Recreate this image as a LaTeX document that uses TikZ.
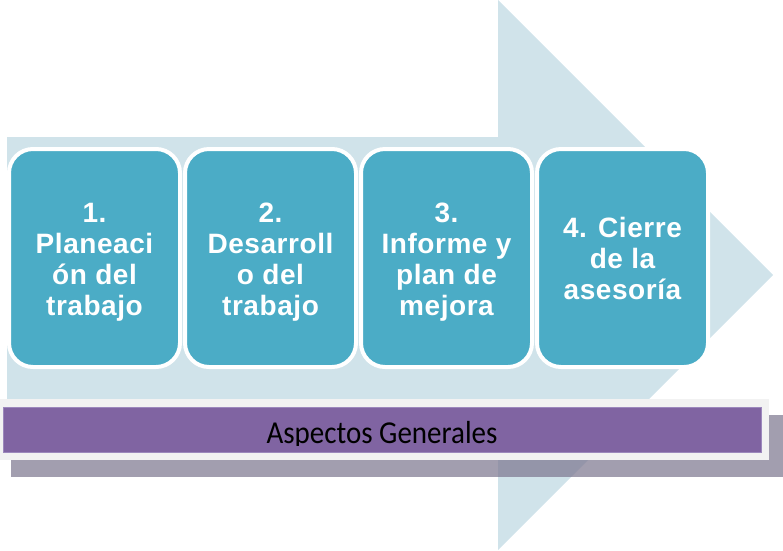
\documentclass[tikz,border=0pt]{standalone}
\usepackage{fontspec}
\newfontfamily\boxfont{Liberation Sans}[LetterSpace=2]
\newfontfamily\barfont{Carlito}
\definecolor{arrowblue}{HTML}{D0E3EA}
\definecolor{boxblue}{HTML}{4BACC6}
\definecolor{barpurple}{HTML}{8064A2}
\definecolor{barline}{HTML}{9C88BC}
\definecolor{framegray}{HTML}{F2F2F2}
\definecolor{shadowgray}{HTML}{7E7890}
\begin{document}
\begin{tikzpicture}[x=1pt,y=-1pt,
  stepbox/.style={rectangle, rounded corners=24pt, draw=white, line width=4pt,
    fill=boxblue, minimum width=171pt, minimum height=218pt, inner sep=0pt,
    align=center, text=white,
    font=\boxfont\bfseries\fontsize{28}{31}\selectfont},
  plainrect/.style={rectangle, inner sep=0pt, outer sep=0pt},
]
\useasboundingbox (0,0) rectangle (783,550);
% big arrow
\fill[arrowblue] (7,137) -- (498,137) -- (498,0) -- (773,275) -- (498,550)
  -- (498,413) -- (7,413) -- cycle;
% steps
\node[stepbox] (s1) at (94.5,258) {\\[-3pt]1.\\Planeaci\\ón del\\trabajo};
\node[stepbox] (s2) at (270.5,258) {\\[-3pt]2.\\Desarroll\\o del\\trabajo};
\node[stepbox] (s3) at (446.5,258) {\\[-3pt]3.\\Informe y\\plan de\\mejora};
\node[stepbox] (s4) at (622.5,258) {4. Cierre\\de la\\asesoría};
% bar with shadow
\node[plainrect, fill=shadowgray, fill opacity=0.72, minimum width=772pt, minimum height=62pt]
  (shadow) at (397,446) {};
\node[plainrect, fill=framegray, minimum width=769pt, minimum height=61pt]
  (frame) at (384.5,429.5) {};
\node[plainrect, draw=barline, fill=barpurple, line width=1pt,
  minimum width=758pt, minimum height=45pt] (bar) at (382,429.5) {};
\begin{scope}
  \clip (0,399) rectangle (783,445);
  \node[anchor=base, inner sep=0pt, yscale=1.1, font=\barfont\fontsize{29}{30}\selectfont]
    (lbl) at (382,443) {Aspectos Generales};
\end{scope}
\end{tikzpicture}
\end{document}
